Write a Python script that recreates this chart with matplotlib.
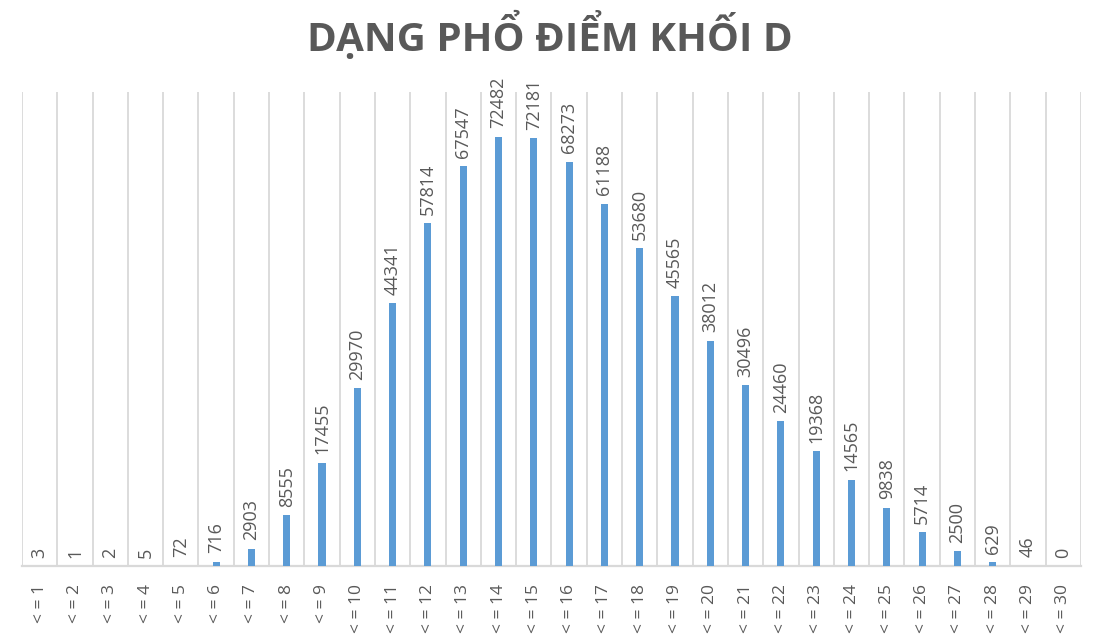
import matplotlib
matplotlib.use("Agg")
import matplotlib.pyplot as plt
import numpy as np

# so thi sinh theo tung muc diem (khoi D)
labels = [f"< = {i}" for i in range(1, 31)]
counts = [3, 1, 2, 5, 72, 716, 2903, 8555, 17455, 29970,
          44341, 57814, 67547, 72482, 72181, 68273, 61188, 53680, 45565, 38012,
          30496, 24460, 19368, 14565, 9838, 5714, 2500, 629, 46, 0]

GRAY = "#595959"
GRID = "#D9D9D9"
BLUE = "#5B9BD5"

fig = plt.figure(figsize=(10.99, 6.35), dpi=100)
ax = fig.add_axes([0.020, 0.1087, 0.9636, 0.7463])

x = np.arange(len(counts))
ax.bar(x, counts, width=0.2, color=BLUE, zorder=3)

ax.set_xlim(-0.5, len(counts) - 0.5)
ax.set_ylim(0, 80000)

# duong luoi doc giua cac cot
for b in np.arange(-0.5, len(counts), 1.0):
    ax.axvline(b, color=GRID, lw=1.3, zorder=1)

ax.set_xticks(x)
ax.set_xticklabels(labels, rotation=90, fontsize=12.5, color=GRAY,
                   family="Open Sans")
ax.tick_params(axis="x", length=0, pad=13)
ax.set_yticks([])
for s in ["top", "left", "right"]:
    ax.spines[s].set_visible(False)
ax.spines["bottom"].set_color(GRID)
ax.spines["bottom"].set_linewidth(1.6)

for xi, c in zip(x, counts):
    ax.annotate(f"{c}", (xi, c), xytext=(0, 6), textcoords="offset points",
                rotation=90, ha="center", va="bottom", fontsize=13,
                color=GRAY, family="Open Sans")

fig.text(0.5, 0.945, "DẠNG PHỔ ĐIỂM KHỐI D", ha="center", va="center",
         fontsize=29, fontweight="bold", color=GRAY, family="Open Sans")

fig.savefig("out.png", dpi=100)
plt.close(fig)
